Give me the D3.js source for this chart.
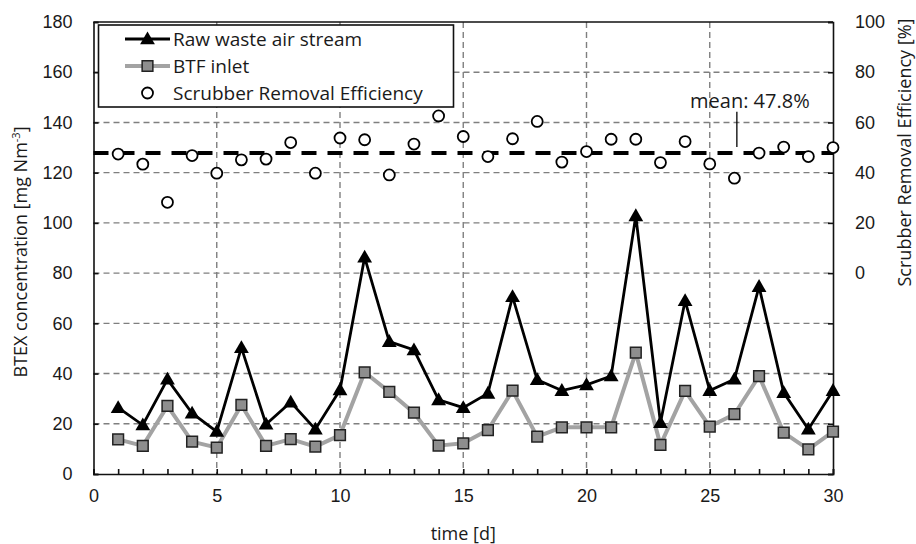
<!DOCTYPE html>
<html>
<head>
<meta charset="utf-8">
<script src="https://cdn.jsdelivr.net/npm/d3@7"></script>
<style>
  body { margin: 0; background: #fff; }
  svg { font-family: "Open Sans", sans-serif; }
  .tick text { font-size: 18px; fill: #1a1a1a; }
</style>
</head>
<body>
<script>
//chart data
var days = d3.range(1, 31);
var rawStream = [26.4, 19.5, 37.7, 24.2, 16.9, 50.3, 19.8, 28.6, 17.8, 33.5,
                 86.3, 52.7, 49.4, 29.5, 26.4, 32.1, 70.6, 37.5, 33.2, 35.5,
                 39.0, 102.8, 20.4, 69.0, 33.2, 37.7, 74.6, 32.4, 17.8, 33.2];
var btfInlet = [13.8, 11.2, 27.1, 12.9, 10.5, 27.5, 11.2, 13.9, 10.9, 15.5,
                40.5, 32.7, 24.4, 11.3, 12.2, 17.5, 33.2, 14.9, 18.6, 18.6,
                18.6, 48.3, 11.6, 33.1, 18.9, 23.8, 39.0, 16.5, 9.8, 16.9];
var efficiency = [47.4, 43.4, 28.2, 46.8, 39.8, 45.1, 45.4, 52.0, 39.8, 53.8,
                  53.1, 39.1, 51.4, 62.6, 54.4, 46.4, 53.5, 60.4, 44.2, 48.4,
                  53.3, 53.3, 44.0, 52.4, 43.5, 37.8, 47.8, 50.2, 46.4, 50.0];
var meanEff = 47.8;
var legendLabels = ["Raw waste air stream", "BTF inlet", "Scrubber Removal Efficiency"];

//frame
var width = 916,
    height = 544;
var plotL = 93.5, plotR = 833, plotT = 22, plotB = 474;

var svg = d3.select("body")
    .append("svg")
    .attr("width", width)
    .attr("height", height);

var x = d3.scaleLinear().domain([0, 30]).range([plotL, plotR]);
var y = d3.scaleLinear().domain([0, 180]).range([plotB, plotT]);
//right axis: 0% sits level with 80 on the left axis
var yR = d3.scaleLinear().domain([-80, 100]).range([plotB, plotT]);

//gridlines
var grid = svg.append("g")
    .attr("stroke", "#7f7f7f")
    .attr("stroke-width", 1.4)
    .attr("stroke-dasharray", "6,4");

grid.selectAll(".hgrid")
    .data(d3.range(20, 180, 20))
    .enter()
    .append("line")
    .attr("x1", plotL).attr("x2", plotR)
    .attr("y1", function(d){ return y(d); })
    .attr("y2", function(d){ return y(d); });

grid.selectAll(".vgrid")
    .data(d3.range(5, 30, 5))
    .enter()
    .append("line")
    .attr("y1", plotT).attr("y2", plotB)
    .attr("x1", function(d){ return x(d); })
    .attr("x2", function(d){ return x(d); });

//axes, ticks pointing inward
svg.append("g")
    .attr("transform", "translate(0," + plotB + ")")
    .call(d3.axisBottom(x)
        .tickValues(d3.range(0, 31))
        .tickSize(-5)
        .tickPadding(15)
        .tickFormat(function(d){ return d % 5 === 0 ? d : ""; }));

svg.append("g")
    .attr("transform", "translate(" + plotL + ",0)")
    .call(d3.axisLeft(y)
        .tickValues(d3.range(0, 181, 20))
        .tickSize(-5)
        .tickPadding(21));

svg.append("g")
    .attr("transform", "translate(" + plotR + ",0)")
    .call(d3.axisRight(yR)
        .tickValues(d3.range(-80, 101, 20))
        .tickSize(-5)
        .tickPadding(22)
        .tickFormat(function(d){ return d >= 0 ? d : ""; }));

svg.selectAll(".domain, .tick line")
    .attr("stroke", "#111")
    .attr("stroke-width", 1.6);

//top frame line
svg.append("line")
    .attr("x1", plotL).attr("x2", plotR)
    .attr("y1", plotT).attr("y2", plotT)
    .attr("stroke", "#111")
    .attr("stroke-width", 1.6);

//mean efficiency line
svg.append("line")
    .attr("x1", plotL).attr("x2", plotR)
    .attr("y1", yR(meanEff)).attr("y2", yR(meanEff))
    .attr("stroke", "#000")
    .attr("stroke-width", 4)
    .attr("stroke-dasharray", "15,11");

//series lines
var seriesLine = d3.line()
    .x(function(d, i){ return x(days[i]); })
    .y(function(d){ return y(d); });

svg.append("path")
    .datum(btfInlet)
    .attr("fill", "none")
    .attr("stroke", "#a3a3a3")
    .attr("stroke-width", 4)
    .attr("stroke-linejoin", "round")
    .attr("d", seriesLine);

svg.append("path")
    .datum(rawStream)
    .attr("fill", "none")
    .attr("stroke", "#000")
    .attr("stroke-width", 2.8)
    .attr("d", seriesLine);

var square = d3.symbol().type(d3.symbolSquare).size(115);
var triangle = d3.symbol().type(d3.symbolTriangle).size(95);

svg.selectAll(".btfPt")
    .data(btfInlet)
    .enter()
    .append("path")
    .attr("transform", function(d, i){ return "translate(" + x(days[i]) + "," + y(d) + ")"; })
    .attr("d", square)
    .attr("fill", "#8e8e8e")
    .attr("stroke", "#222")
    .attr("stroke-width", 1.5);

svg.selectAll(".rawPt")
    .data(rawStream)
    .enter()
    .append("path")
    .attr("transform", function(d, i){ return "translate(" + x(days[i]) + "," + (y(d) + 1) + ")"; })
    .attr("d", triangle)
    .attr("fill", "#000");

//efficiency points
svg.selectAll(".effPt")
    .data(efficiency)
    .enter()
    .append("circle")
    .attr("cx", function(d, i){ return x(days[i]); })
    .attr("cy", function(d){ return yR(d); })
    .attr("r", 5.5)
    .attr("fill", "#fff")
    .attr("stroke", "#000")
    .attr("stroke-width", 1.8);

//mean annotation
svg.append("line")
    .attr("x1", x(26.1)).attr("x2", x(26.1))
    .attr("y1", yR(meanEff) - 6).attr("y2", yR(64.3))
    .attr("stroke", "#000")
    .attr("stroke-width", 1.3);

svg.append("text")
    .attr("x", x(24.2))
    .attr("y", yR(meanEff) - 45)
    .attr("font-size", 20)
    .attr("fill", "#1a1a1a")
    .text("mean: " + meanEff + "%");

//legend
var legend = svg.append("g");
legend.append("rect")
    .attr("x", 98.5).attr("y", 25)
    .attr("width", 355).attr("height", 82)
    .attr("fill", "#fff")
    .attr("stroke", "#111")
    .attr("stroke-width", 1.6);

var rowY = [39, 66, 93];
legend.append("line")
    .attr("x1", 125).attr("x2", 170).attr("y1", rowY[0]).attr("y2", rowY[0])
    .attr("stroke", "#000").attr("stroke-width", 2.8);
legend.append("path")
    .attr("transform", "translate(147.5," + (rowY[0] + 1) + ")")
    .attr("d", triangle).attr("fill", "#000");
legend.append("line")
    .attr("x1", 125).attr("x2", 170).attr("y1", rowY[1]).attr("y2", rowY[1])
    .attr("stroke", "#a3a3a3").attr("stroke-width", 4);
legend.append("path")
    .attr("transform", "translate(147.5," + rowY[1] + ")")
    .attr("d", square).attr("fill", "#8e8e8e")
    .attr("stroke", "#222").attr("stroke-width", 1.5);
legend.append("circle")
    .attr("cx", 147.5).attr("cy", rowY[2]).attr("r", 5.5)
    .attr("fill", "#fff").attr("stroke", "#000").attr("stroke-width", 1.8);

legend.selectAll(".legText")
    .data(legendLabels)
    .enter()
    .append("text")
    .attr("x", 173)
    .attr("y", function(d, i){ return rowY[i]; })
    .attr("dy", "0.35em")
    .attr("font-size", 19)
    .attr("fill", "#1a1a1a")
    .text(function(d){ return d; });

//axis titles
svg.append("text")
    .attr("x", (plotL + plotR) / 2)
    .attr("y", 540)
    .attr("text-anchor", "middle")
    .attr("font-size", 18)
    .attr("fill", "#1a1a1a")
    .text("time [d]");

var yTitle = svg.append("text")
    .attr("transform", "translate(27," + ((plotT + plotB) / 2 + 4) + ") rotate(-90)")
    .attr("text-anchor", "middle")
    .attr("font-size", 18)
    .attr("fill", "#1a1a1a");
yTitle.append("tspan").text("BTEX concentration [mg Nm");
yTitle.append("tspan").attr("dy", -7).attr("font-size", 11).text("-3");
yTitle.append("tspan").attr("dy", 7).text("]");

svg.append("text")
    .attr("transform", "translate(911," + ((plotT + yR(0)) / 2 + 5) + ") rotate(-90)")
    .attr("text-anchor", "middle")
    .attr("font-size", 18)
    .attr("fill", "#1a1a1a")
    .text("Scrubber Removal Efficiency [%]");
</script>
</body>
</html>
